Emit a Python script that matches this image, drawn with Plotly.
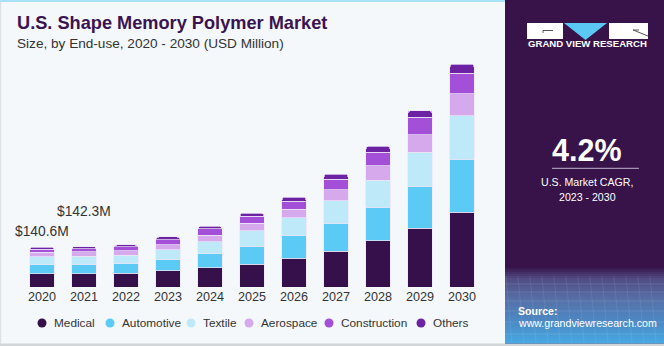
import plotly.graph_objects as go

# ---------------- data ----------------
years = ["2020", "2021", "2022", "2023", "2024", "2025", "2026", "2027", "2028", "2029", "2030"]
series_names = ["Medical", "Automotive", "Textile", "Aerospace", "Construction", "Others"]
medical = [46.1, 46.4, 48.2, 57.3, 67.8, 80.8, 101.9, 125.5, 162.7, 206.3, 262.6]
automotive = [32.7, 33.0, 34.1, 38.7, 49.2, 62.2, 78.4, 98.4, 117.0, 148.7, 187.3]
textile = [28.1, 28.5, 29.2, 35.2, 42.2, 55.2, 63.3, 79.8, 94.9, 118.5, 152.6]
aerospace = [15.1, 15.5, 15.1, 17.6, 22.1, 25.7, 29.2, 37.6, 51.7, 62.2, 77.3]
construction = [10.5, 10.5, 14.1, 17.6, 23.6, 24.6, 29.2, 37.6, 46.7, 60.8, 72.4]
others = [8.1, 8.4, 7.0, 9.5, 8.1, 10.5, 14.1, 17.6, 21.1, 23.6, 30.6]
value_labels = {"2020": "$140.6M", "2021": "$142.3M"}
cagr_text = "4.2%"
cagr_caption = ["U.S. Market CAGR,", "2023 - 2030"]

colors = ["#36104a", "#5bcbf5", "#bde9f9", "#d5a9ec", "#a44fd8", "#6c22a2"]
series_values = [medical, automotive, textile, aerospace, construction, others]

# ---------------- geometry helpers ----------------
W, H = 664, 346
PL, PR, PT, PB = 21, 483, 60, 287  # plot area in px
YMAX = 797.9


def X(px):
    return (px - PL) / (PR - PL)


def Y(py):
    return (PB - py) / (PB - PT)


fig = go.Figure()
for name, vals, col in zip(series_names, series_values, colors):
    fig.add_trace(go.Bar(
        x=years, y=vals, name=name, marker=dict(color=col, line=dict(color="rgba(235,228,245,0.9)", width=0.8)),
        showlegend=False, hoverinfo="x+y+name",
    ))

totals = [sum(v) for v in zip(*series_values)]
shapes = []
annotations = []

# chart background
shapes.append(dict(type="rect", xref="paper", yref="paper", x0=X(0), x1=X(506), y0=Y(344), y1=Y(0),
                   fillcolor="#f4f8fb", line=dict(width=0), layer="below"))
shapes.append(dict(type="rect", xref="paper", yref="paper", x0=X(0), x1=X(506), y0=Y(2), y1=Y(0),
                   fillcolor="#a8e2f7", line=dict(width=0), layer="below"))
shapes.append(dict(type="rect", xref="paper", yref="paper", x0=X(0), x1=X(1.2), y0=Y(344), y1=Y(2),
                   fillcolor="#dde1e5", line=dict(width=0), layer="below"))
shapes.append(dict(type="rect", xref="paper", yref="paper", x0=X(0), x1=X(664), y0=Y(346), y1=Y(343.5),
                   fillcolor="#d3d6d9", line=dict(width=0), layer="below"))

# right panel
shapes.append(dict(type="rect", xref="paper", yref="paper", x0=X(505), x1=X(664), y0=Y(343.5), y1=Y(0),
                   fillcolor="#37134a", line=dict(width=0)))
stops = [(266, (55, 19, 74)), (278, (82, 76, 132)), (300, (86, 114, 170)), (325, (74, 142, 202)), (344, (70, 172, 228))]
py = 266
while py < 343.5:
    for (a, ca), (b, cb) in zip(stops[:-1], stops[1:]):
        if a <= py <= b:
            t = (py - a) / (b - a)
            c = tuple(int(round(ca[i] + (cb[i] - ca[i]) * t)) for i in range(3))
            break
    shapes.append(dict(type="rect", xref="paper", yref="paper", x0=X(505), x1=X(664),
                       y0=Y(min(py + 2.2, 343.5)), y1=Y(py),
                       fillcolor="rgb(%d,%d,%d)" % c, line=dict(width=0)))
    py += 2
# faint grid lines in the panel
for gy in [284, 292, 301, 311, 322, 334]:
    shapes.append(dict(type="line", xref="paper", yref="paper", x0=X(505), x1=X(664), y0=Y(gy), y1=Y(gy),
                       line=dict(color="rgba(255,255,255,0.10)", width=1)))
for gx in range(512, 664, 12):
    shapes.append(dict(type="line", xref="paper", yref="paper", x0=X(gx), x1=X(gx - 6), y0=Y(343), y1=Y(276),
                       line=dict(color="rgba(255,255,255,0.08)", width=1)))

# logo
shapes.append(dict(type="rect", xref="paper", yref="paper", x0=X(527), x1=X(563), y0=Y(39), y1=Y(23),
                   fillcolor="white", line=dict(width=0)))
shapes.append(dict(type="rect", xref="paper", yref="paper", x0=X(609), x1=X(648), y0=Y(39), y1=Y(23),
                   fillcolor="white", line=dict(width=0)))
tri = "M %f,%f L %f,%f L %f,%f Z" % (X(564), Y(23), X(607), Y(23), X(585.5), Y(40))
shapes.append(dict(type="path", xref="paper", yref="paper", path=tri, fillcolor="#5bc8f3", line=dict(width=0)))
shapes.append(dict(type="line", xref="paper", yref="paper", x0=X(543), x1=X(553), y0=Y(30.5), y1=Y(30.5),
                   line=dict(color="#555", width=1)))
shapes.append(dict(type="line", xref="paper", yref="paper", x0=X(543), x1=X(543), y0=Y(30.5), y1=Y(33),
                   line=dict(color="#555", width=1)))
shapes.append(dict(type="line", xref="paper", yref="paper", x0=X(633), x1=X(648), y0=Y(30), y1=Y(36),
                   line=dict(color="#555", width=1)))
shapes.append(dict(type="line", xref="paper", yref="paper", x0=X(633), x1=X(639), y0=Y(30), y1=Y(30),
                   line=dict(color="#555", width=1)))

annotations.append(dict(text="<b>GRAND VIEW RESEARCH</b>", x=X(587.5), y=Y(44), xref="paper", yref="paper",
                        showarrow=False, xanchor="center", yanchor="middle",
                        font=dict(family="Liberation Sans, Arial", size=9.6, color="white")))

# CAGR block
annotations.append(dict(text="<b>%s</b>" % cagr_text, x=X(587), y=Y(150), xref="paper", yref="paper",
                        showarrow=False, xanchor="center", yanchor="middle",
                        font=dict(family="Liberation Sans, Arial", size=30.5, color="white")))
shapes.append(dict(type="line", xref="paper", yref="paper", x0=X(552), x1=X(639), y0=Y(168.3), y1=Y(168.3),
                   line=dict(color="#bdb3c8", width=1)))
for txt, cy in zip(cagr_caption, [182, 196.5]):
    annotations.append(dict(text=txt, x=X(587), y=Y(cy), xref="paper", yref="paper",
                            showarrow=False, xanchor="center", yanchor="middle",
                            font=dict(family="Liberation Sans, Arial", size=10.6, color="white")))

# source
annotations.append(dict(text="<b>Source:</b>", x=X(516), y=Y(311), xref="paper", yref="paper",
                        showarrow=False, xanchor="left", yanchor="middle",
                        font=dict(family="Liberation Sans, Arial", size=10.6, color="white")))
annotations.append(dict(text="www.grandviewresearch.com", x=X(516), y=Y(323), xref="paper", yref="paper",
                        showarrow=False, xanchor="left", yanchor="middle",
                        font=dict(family="Liberation Sans, Arial", size=10.6, color="white")))

# title / subtitle
annotations.append(dict(text="<b>U.S. Shape Memory Polymer Market</b>", x=X(15), y=Y(23), xref="paper", yref="paper",
                        showarrow=False, xanchor="left", yanchor="middle",
                        font=dict(family="Liberation Sans, Arial", size=18.2, color="#3b1350")))
annotations.append(dict(text="Size, by End-use, 2020 - 2030 (USD Million)", x=X(15), y=Y(43.5), xref="paper",
                        yref="paper", showarrow=False, xanchor="left", yanchor="middle",
                        font=dict(family="Liberation Sans, Arial", size=13.6, color="#333333")))

# value labels (category index used as x position)
for yr, shift in zip(["2020", "2021"], [6.5, 26]):
    i = years.index(yr)
    annotations.append(dict(text=value_labels[yr], x=i, y=totals[i], xref="x", yref="y",
                            showarrow=False, xanchor="center", yanchor="bottom", yshift=shift,
                            font=dict(family="Liberation Sans, Arial", size=13.8, color="#333333")))

# legend (custom, circle markers)
legend_px = [42, 110, 191, 249, 329, 421]
for name, col, mx in zip(series_names, colors, legend_px):
    shapes.append(dict(type="circle", xref="paper", yref="paper", x0=X(mx - 4.5), x1=X(mx + 4.5),
                       y0=Y(327.5), y1=Y(318.5), fillcolor=col, line=dict(width=0)))
    annotations.append(dict(text=name, x=X(mx + 10), y=Y(323), xref="paper", yref="paper",
                            showarrow=False, xanchor="left", yanchor="middle",
                            font=dict(family="Liberation Sans, Arial", size=11.8, color="#333333")))

fig.update_layout(
    width=W, height=H,
    margin=dict(l=PL, r=W - PR, t=PT, b=H - PB, pad=0),
    barmode="stack", bargap=0.42, barcornerradius=3,
    paper_bgcolor="white", plot_bgcolor="rgba(0,0,0,0)",
    showlegend=False,
    xaxis=dict(type="category", range=[-0.5, len(years) - 0.5], autorange=False, showgrid=False,
               showline=False, zeroline=False, ticks="",
               tickfont=dict(family="Liberation Sans, Arial", size=12.6, color="#333333"), fixedrange=True),
    yaxis=dict(range=[0, YMAX], autorange=False, visible=False, showgrid=False, zeroline=False, fixedrange=True),
    shapes=shapes, annotations=annotations,
)

fig.write_html("out.html")
